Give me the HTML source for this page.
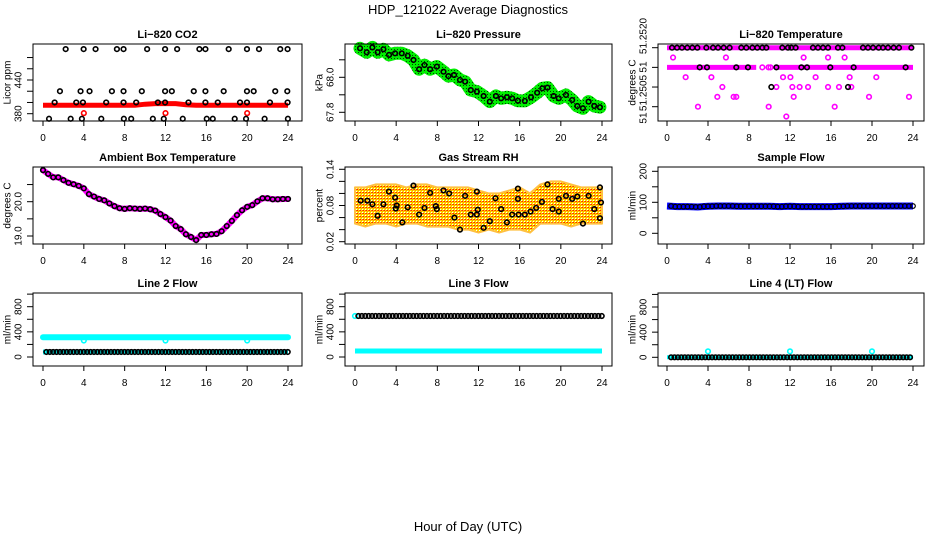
<!DOCTYPE html>
<html><head><meta charset="utf-8"><style>
html,body{margin:0;padding:0;background:#fff;}
svg{display:block;font-family:"Liberation Sans",sans-serif;}
</style></head><body>
<svg id="chart" width="936" height="540" viewBox="0 0 936 540" xmlns="http://www.w3.org/2000/svg">
<defs>
<pattern id="greenPat" width="3" height="3" patternUnits="userSpaceOnUse"><rect width="3" height="3" fill="#00ee00"/><rect x="1" y="1" width="1" height="1" fill="#004400"/></pattern>
<pattern id="rhPat" width="3" height="3" patternUnits="userSpaceOnUse"><rect width="3" height="3" fill="#ffe000"/><rect width="1" height="1" fill="#ff2000"/><rect x="1" y="1" width="1" height="1" fill="#ff9000"/><rect x="2" y="2" width="1" height="1" fill="#ffffff"/><rect x="2" y="0" width="1" height="1" fill="#ff6000"/></pattern>
</defs>
<text x="468" y="14" text-anchor="middle" font-size="13">HDP_121022  Average Diagnostics</text>
<text x="468" y="531" text-anchor="middle" font-size="13">Hour of Day (UTC)</text>
</svg>
<script>
// ---------- data ----------
const xTicks = [0,4,8,12,16,20,24];
// CO2
const co2RedHours = [0,1,2,3,4,5,6,7,8,9,10,11,12,13,14,15,16,17,18,19,20,21,22,23,24];
const co2Red = [395,395,395,395,395,395,395,395,395,395,397,398,398,398,396,395,395,395,395,395,395,395,395,395,395];
const co2RedPtsHours = [4,12,20];
const co2RedPts = [381,381,381];
const co2H495 = [2.22,3.98,5.15,7.24,7.89,10.2,11.96,13.14,15.32,15.91,18.19,19.98,21.16,23.24,23.96];
const co2H420 = [1.66,3.68,4.56,6.75,7.89,9.68,11.96,12.62,14.77,15.91,17.7,19.98,20.64,22.75,23.93];
const co2H400 = [1.14,3.26,3.91,6.19,7.89,9.13,11.25,11.96,14.25,15.91,17.12,19.3,19.98,22.23,23.96];
const co2H371 = [0.59,2.71,3.81,5.71,7.92,8.64,10.76,11.83,13.69,16.04,16.63,18.78,19.89,21.71,23.99];
const co2Levels = [495,420,400,371];
// Pressure
const presHours = [0.49,1.14,1.69,2.2,2.76,3.31,3.89,4.54,5.12,5.68,6.23,6.75,7.3,7.95,8.6,9.08,9.63,10.2,10.7,11.25,11.84,12.5,13.1,13.7,14.2,14.76,15.27,15.83,16.5,17.1,17.7,18.2,18.7,19.3,19.8,20.5,21.1,21.6,22.15,22.7,23.25,23.8];
const presVals = [68.166,68.143,68.171,68.143,68.160,68.128,68.137,68.137,68.123,68.099,68.046,68.070,68.046,68.061,68.032,68.007,68.013,67.985,67.975,67.927,67.918,67.893,67.861,67.893,67.880,67.886,67.880,67.866,67.865,67.886,67.912,67.937,67.941,67.893,67.880,67.899,67.870,67.836,67.823,67.861,67.836,67.829];
// Li-820 temperature (levels)
const tempTop = 51.2520;
const tempStep = 0.00025;
const tempRow0Black = [0.49,0.98,1.46,1.98,2.47,2.96,3.84,4.49,4.98,5.53,6.11,7.25,7.74,8.33,8.81,9.30,9.69,11.25,11.80,12.13,12.55,14.24,14.73,15.22,15.71,16.68,17.11,19.12,19.61,20.10,20.65,21.07,21.56,22.11,22.63,23.84];
const tempRow2Black = [3.19,3.90,6.76,7.90,10.67,13.11,13.66,15.93,18.21,23.28];
const tempRow4Black = [10.18,17.66];
const tempExtraHours = [0.59,5.75,13.33,15.71,17.33,1.82,4.33,11.32,12.04,14.5,17.82,20.42,5.4,10.67,12.23,12.94,13.76,15.71,16.78,17.98,4.91,6.5,6.76,12.36,19.71,23.61,3.02,9.92,16.36,11.64,9.3,9.9,10.1];
const tempExtraLevel = [1,1,1,1,1,3,3,3,3,3,3,3,4,4,4,4,4,4,4,4,5,5,5,5,5,5,6,6,6,7,2,2,2];
// Ambient
const ambHours = [0,0.5,1,1.5,2,2.5,3,3.5,4,4.5,5,5.5,6,6.5,7,7.5,8,8.5,9,9.5,10,10.5,11,11.5,12,12.5,13,13.5,14,14.5,15,15.5,16,16.5,17,17.5,18,18.5,19,19.5,20,20.5,21,21.5,22,22.5,23,23.5,24];
const ambVals = [20.92,20.81,20.71,20.71,20.63,20.55,20.51,20.46,20.39,20.22,20.15,20.08,20.04,19.95,19.87,19.81,19.79,19.81,19.80,19.79,19.80,19.78,19.74,19.64,19.55,19.45,19.29,19.20,19.05,18.97,18.88,19.03,19.03,19.05,19.06,19.14,19.29,19.44,19.61,19.75,19.85,19.90,20.01,20.10,20.10,20.07,20.07,20.08,20.08];
// RH
const rhBandHours = [0,1,2,3,4,5,6,7,8,9,10,11,12,13,14,15,16,17,18,19,20,21,22,23,24];
const rhUpper = [0.11,0.11,0.115,0.115,0.115,0.11,0.115,0.115,0.11,0.11,0.11,0.11,0.105,0.1,0.1,0.105,0.11,0.1,0.115,0.12,0.12,0.115,0.11,0.11,0.11];
const rhLower = [0.05,0.045,0.05,0.05,0.045,0.05,0.05,0.045,0.045,0.045,0.04,0.04,0.035,0.04,0.035,0.04,0.04,0.035,0.05,0.05,0.05,0.045,0.05,0.05,0.05];
const rhHours = [0.55,1.2,1.69,2.2,2.76,3.3,3.9,3.96,4.05,4.6,5.12,5.68,6.23,6.75,7.3,7.85,7.95,8.6,9.15,9.66,10.2,10.7,11.25,11.84,11.84,11.93,12.5,13.1,13.65,14.2,14.76,15.27,15.83,15.83,15.9,16.5,17.06,17.6,18.16,18.7,19.2,19.8,19.8,20.5,21.1,21.6,22.15,22.7,23.25,23.8,23.8,23.9];
const rhVals = [0.088,0.088,0.082,0.063,0.082,0.103,0.093,0.075,0.080,0.052,0.077,0.113,0.065,0.076,0.101,0.079,0.074,0.105,0.100,0.060,0.040,0.096,0.065,0.103,0.065,0.073,0.043,0.054,0.092,0.074,0.052,0.065,0.108,0.091,0.065,0.065,0.070,0.076,0.086,0.115,0.074,0.091,0.070,0.096,0.091,0.095,0.050,0.096,0.074,0.110,0.059,0.085];
// Sample flow
const sfHours = [0,1,2,3,4,5,6,7,8,9,10,11,12,13,14,15,16,17,18,19,20,21,22,23,24];
const sfVals = [88,86,86,85,87,88,88,87,87,87,87,86,87,86,86,86,86,87,88,88,88,88,88,88,88];
// Line flows
const l2Cyan = 313;
const l2DipHours = [4,12,20];
const l2Dip = [262,262,262];
const l2Low = 80;
const l3High = 652;
const l3Low = 95;
const l4Zero = 0;
const l4SpikeHours = [4,12,20];
const l4Spike = [95,95,95];

// ---------- geometry ----------
const NS = 'http://www.w3.org/2000/svg';
const svg = document.getElementById('chart');
const cols = [{l:33,r:302,x0:43,x24:288},{l:345,r:612,x0:355,x24:602},{l:658,r:924,x0:667,x24:913}];
const rows = [{t:44,b:121},{t:167,b:244},{t:293,b:366}];

function mk(tag, attrs, name, parent){
  const e = document.createElementNS(NS, tag);
  for (const k in attrs) e.setAttribute(k, attrs[k]);
  
  
  (parent || svg).appendChild(e);
  return e;
}
function txt(x,y,s,attrs,name,parent){const t=mk('text',Object.assign({x:x,y:y},attrs),name,parent);t.textContent=s;return t;}

function panel(ci, ri, title, ylab, yv1, yp1, yv2, yp2, ticks, labels, slug){
  const c = cols[ci], r = rows[ri];
  const g = mk('g', {}, slug + '-panel');
  const X = h => c.x0 + (c.x24 - c.x0) * h / 24;
  const Y = v => yp1 + (v - yv1) * (yp2 - yp1) / (yv2 - yv1);
  const data = mk('g', {}, slug + '-marks', g);
  mk('rect', {x:c.l, y:r.t, width:c.r-c.l, height:r.b-r.t, fill:'none', stroke:'#000', 'stroke-width':1}, slug + '-plot-frame', g);
  txt((c.l+c.r)/2, r.t-6, title, {'text-anchor':'middle','font-size':11,'font-weight':'bold'}, slug + '-title', g);
  const xa = mk('g', {}, slug + '-x-axis', g);
  for (const h of xTicks){
    mk('line', {x1:X(h), x2:X(h), y1:r.b, y2:r.b+5, stroke:'#000'}, 'x-tick', xa);
    txt(X(h), r.b+20, String(h), {'text-anchor':'middle','font-size':10}, 'x-tick-label', xa);
  }
  const ya = mk('g', {}, slug + '-y-axis', g);
  ticks.forEach((v,i)=>{
    const y = Y(v);
    mk('line', {x1:c.l-6, x2:c.l, y1:y, y2:y, stroke:'#000'}, 'y-tick', ya);
    if (labels[i]) txt(c.l-14, y, labels[i], {'text-anchor':'middle','font-size':10,'dominant-baseline':'central',transform:'rotate(-90 '+(c.l-14)+' '+y+')'}, 'y-tick-label', ya);
  });
  const ym = (r.t + r.b)/2, yx = c.l - 25;
  txt(yx, ym, ylab, {'text-anchor':'middle','font-size':10,'dominant-baseline':'central',transform:'rotate(-90 '+yx+' '+ym+')'}, slug + '-y-axis-title', ya);
  return {X, Y, g: data, c, r};
}
function circ(p, h, v, col, name, sw){ return mk('circle', {cx:p.X(h), cy:p.Y(v), r:2.3, fill:'none', stroke:col, 'stroke-width':sw||1.6}, name, p.g); }
function poly(p, hs, vs, attrs, name){
  const pts = hs.map((h,i)=>p.X(h).toFixed(1)+','+p.Y(vs[i]).toFixed(1)).join(' ');
  return mk('polyline', Object.assign({points:pts, fill:'none'}, attrs), name, p.g);
}
function gridHours(a,b,step){const o=[];for(let h=a;h<=b+1e-9;h+=step)o.push(h);return o;}

// ---- P1 CO2
let p = panel(0,0,'Li−820 CO2','Licor ppm',380,113.7,440,80,[380,400,420,440,460,480],['380','','','440','',''],'co2');
poly(p, co2RedHours, co2Red, {stroke:'#ff0000','stroke-width':5}, 'co2-red-band');
co2RedPtsHours.forEach((h,i)=>circ(p,h,co2RedPts[i],'#ff0000','co2-red-point'));
[co2H495,co2H420,co2H400,co2H371].forEach((arr,k)=>arr.forEach(h=>circ(p,h,co2Levels[k],'#000','co2-point')));

// ---- P2 Pressure
p = panel(1,0,'Li−820 Pressure','kPa',67.8,112.3,68.0,77.3,[67.8,67.9,68.0,68.1],['67.8','','68.0',''],'pressure');
poly(p, presHours, presVals, {stroke:'url(#greenPat)','stroke-width':13,'stroke-linejoin':'round','stroke-linecap':'round'}, 'pressure-green-band');
presHours.forEach((h,i)=>circ(p,h,presVals[i],'#000','pressure-point'));

// ---- P3 Li-820 temperature
p = panel(2,0,'Li−820 Temperature','degrees C',51.2520,47.7,51.2505,106.7,[51.2520,51.2515,51.2510,51.2505],['','','',''],'li820-temp');
txt(p.c.l-14, 36, '51.2520', {'text-anchor':'middle','font-size':10,'dominant-baseline':'central',transform:'rotate(-90 '+(p.c.l-14)+' 36)'}, 'y-tick-label');
txt(p.c.l-14, 67, '51', {'text-anchor':'middle','font-size':10,'dominant-baseline':'central',transform:'rotate(-90 '+(p.c.l-14)+' 67)'}, 'y-tick-label');
txt(p.c.l-14, 93, '51.2505', {'text-anchor':'middle','font-size':10,'dominant-baseline':'central',transform:'rotate(-90 '+(p.c.l-14)+' 93)'}, 'y-tick-label');
txt(p.c.l-14, 118, '51', {'text-anchor':'middle','font-size':10,'dominant-baseline':'central',transform:'rotate(-90 '+(p.c.l-14)+' 118)'}, 'y-tick-label');
poly(p, [0,24], [tempTop,tempTop], {stroke:'#ff00ff','stroke-width':5}, 'temp-magenta-row-top');
poly(p, [0,8.7], [tempTop-2*tempStep,tempTop-2*tempStep], {stroke:'#ff00ff','stroke-width':5}, 'temp-magenta-row-mid');
poly(p, [10.5,24], [tempTop-2*tempStep,tempTop-2*tempStep], {stroke:'#ff00ff','stroke-width':5}, 'temp-magenta-row-mid');
tempExtraHours.forEach((h,i)=>circ(p,h,tempTop-tempExtraLevel[i]*tempStep,'#ff00ff','temp-magenta-point'));
tempRow0Black.forEach(h=>circ(p,h,tempTop,'#000','temp-point'));
tempRow2Black.forEach(h=>circ(p,h,tempTop-2*tempStep,'#000','temp-point'));
tempRow4Black.forEach(h=>circ(p,h,tempTop-4*tempStep,'#000','temp-point'));

// ---- P4 Ambient
p = panel(0,1,'Ambient Box Temperature','degrees C',20.0,201.7,19.0,236,[19.0,19.5,20.0,20.5],['19.0','','20.0',''],'ambient');
poly(p, ambHours, ambVals, {stroke:'#ff00ff','stroke-width':6,'stroke-linejoin':'round','stroke-linecap':'round'}, 'ambient-magenta-band');
ambHours.forEach((h,i)=>circ(p,h,ambVals[i],'#000','ambient-point',1.6));

// ---- P5 RH
p = panel(1,1,'Gas Stream RH','percent',0.14,169.3,0.02,241.7,[0.02,0.04,0.06,0.08,0.10,0.12,0.14],['0.02','','','0.08','','','0.14'],'rh');
{
  const up = rhBandHours.map((h,i)=>p.X(h).toFixed(1)+','+p.Y(rhUpper[i]).toFixed(1));
  const lo = rhBandHours.map((h,i)=>p.X(h).toFixed(1)+','+p.Y(rhLower[i]).toFixed(1)).reverse();
  mk('polygon', {points: up.concat(lo).join(' '), fill:'url(#rhPat)', stroke:'#ffc040','stroke-width':2,'stroke-linejoin':'round'}, 'rh-orange-band', p.g);
}
rhHours.forEach((h,i)=>circ(p,h,rhVals[i],'#000','rh-point'));

// ---- P6 Sample flow
p = panel(2,1,'Sample Flow','ml/min',0,233.3,100,202.3,[0,50,100,150,200],['0','','100','','200'],'sample-flow');
poly(p, sfHours, sfVals, {stroke:'#0000ff','stroke-width':7}, 'sample-flow-blue-band');
gridHours(0.4,24,0.4).forEach(h=>circ(p,h,sfVals[Math.round(h)],'#000','sample-flow-point',1.2));

// ---- P7 Line 2
const lfTicks=[0,200,400,600,800,1000], lfLabels=['0','','400','','800',''];
p = panel(0,2,'Line 2 Flow','ml/min',0,357,800,306.7,lfTicks,lfLabels,'line2');
poly(p, [0,24], [l2Cyan,l2Cyan], {stroke:'#00ffff','stroke-width':6,'stroke-linecap':'round'}, 'line2-cyan-band');
l2DipHours.forEach((h,i)=>circ(p,h,l2Dip[i],'#00ffff','line2-cyan-point',1.6));
poly(p, [0,24], [l2Low,l2Low], {stroke:'#00ffff','stroke-width':5}, 'line2-low-cyan');
gridHours(0.33,24,0.333).forEach(h=>circ(p,h,l2Low,'#000','line2-point',1.6));

// ---- P8 Line 3
p = panel(1,2,'Line 3 Flow','ml/min',0,357,800,306.7,lfTicks,lfLabels,'line3');
poly(p, [0,24], [l3Low,l3Low], {stroke:'#00ffff','stroke-width':5}, 'line3-cyan-band');
circ(p,0,l3High,'#00ffff','line3-cyan-point',1.6);
gridHours(0.33,24,0.333).forEach(h=>circ(p,h,l3High,'#000','line3-point',1.6));

// ---- P9 Line 4
p = panel(2,2,'Line 4 (LT) Flow','ml/min',0,357.3,800,307,lfTicks,lfLabels,'line4');
poly(p, [0,24], [l4Zero,l4Zero], {stroke:'#00ffff','stroke-width':4}, 'line4-cyan-band');
l4SpikeHours.forEach((h,i)=>circ(p,h,l4Spike[i],'#00ffff','line4-cyan-point',1.6));
gridHours(0.4,24,0.333).forEach(h=>circ(p,h,l4Zero,'#000','line4-point',1.6));
</script>
</body></html>
